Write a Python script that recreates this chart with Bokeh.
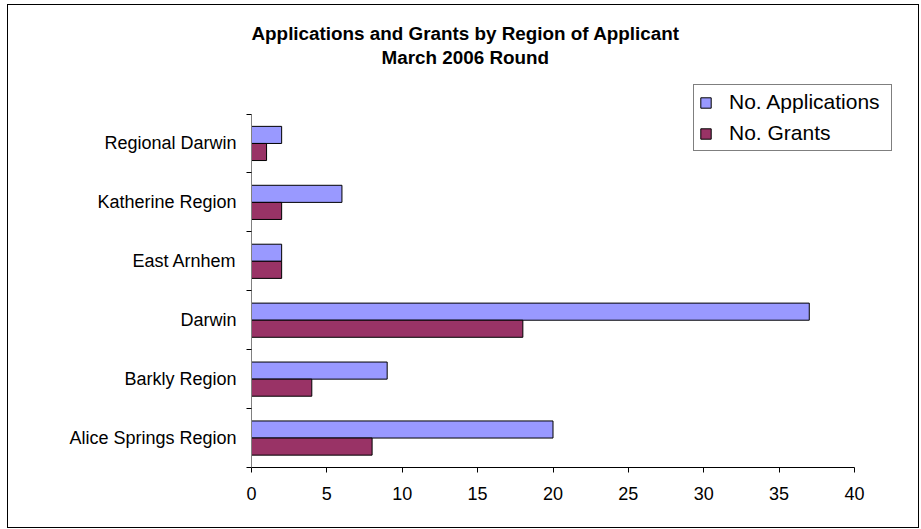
from bokeh.plotting import figure
from bokeh.models import (Range1d, FixedTicker, Title, Legend, LegendItem,
                          ColumnDataSource)
from bokeh.transform import dodge
from bokeh.embed import file_html
from bokeh.resources import INLINE

# ---- data ----
categories = ["Alice Springs Region", "Barkly Region", "Darwin",
              "East Arnhem", "Katherine Region", "Regional Darwin"]
applications = [20, 9, 37, 2, 6, 2]
grants = [8, 4, 18, 2, 2, 1]
series_names = ["No. Applications", "No. Grants"]
series_colors = ["#9999FF", "#993366"]
x_ticks = [0, 5, 10, 15, 20, 25, 30, 35, 40]
title_lines = ["Applications and Grants by Region of Applicant", "March 2006 Round"]

# ---- layout constants (pixels) ----
FONT = "Liberation Sans"
BAR_H = 0.29
W, H = 910, 522
MB_LEFT, MB_RIGHT, MB_TOP, MB_BOTTOM = 243, 16, 63, 60
AXIS_X_PX = 603.0      # pixel length of the x axis (0..40)
AXIS_Y_PX = 353.5      # pixel length of the category axis

frame_w = W - MB_LEFT - MB_RIGHT
frame_h = H - MB_TOP - MB_BOTTOM
x_end = x_ticks[0] + (x_ticks[-1] - x_ticks[0]) * frame_w / AXIS_X_PX
y_end = -0.5 + len(categories) * frame_h / AXIS_Y_PX

pos = list(range(len(categories)))
src = ColumnDataSource(dict(y=pos, cat=categories, app=applications, gr=grants))

p = figure(width=W, height=H, output_backend="svg", toolbar_location=None,
           x_range=Range1d(x_ticks[0], x_end),
           y_range=Range1d(-0.5, y_end),
           title=None,
           min_border_left=MB_LEFT, min_border_right=MB_RIGHT,
           min_border_top=MB_TOP, min_border_bottom=MB_BOTTOM,
           margin=(5, 3, 2, 8),
           styles={"outline": "1px solid #000000", "outline-offset": "0px",
                   "width": f"{W}px", "height": f"{H}px"})
p.outline_line_color = None
p.background_fill_color = "white"
p.border_fill_color = "white"
p.xgrid.visible = False
p.ygrid.visible = False

r_app = p.hbar(y=dodge("y", BAR_H / 2, range=p.y_range), left=0, right="app",
               height=BAR_H, source=src, fill_color=series_colors[0],
               line_color="black", line_width=1)
r_gr = p.hbar(y=dodge("y", -BAR_H / 2, range=p.y_range), left=0, right="gr",
              height=BAR_H, source=src, fill_color=series_colors[1],
              line_color="black", line_width=1)

# x axis
xa = p.xaxis[0]
xa.ticker = FixedTicker(ticks=x_ticks, minor_ticks=[])
xa.bounds = (x_ticks[0], x_ticks[-1])
xa.axis_line_color = "black"
xa.major_tick_line_color = "black"
xa.major_tick_out = 5
xa.major_tick_in = 0
xa.minor_tick_line_color = None
xa.major_label_standoff = 14
xa.major_label_text_font = FONT
xa.major_label_text_font_size = "18px"
xa.major_label_text_color = "black"

# y axis: labels at category centres, tick marks between categories
ya = p.yaxis[0]
ya.ticker = FixedTicker(ticks=pos, minor_ticks=[i - 0.5 for i in range(len(categories) + 1)])
ya.bounds = (-0.5, len(categories) - 0.5)
ya.major_label_overrides = {i: c for i, c in zip(pos, categories)}
ya.axis_line_color = "#808080"
ya.major_tick_line_color = None
ya.major_tick_out = 0
ya.major_tick_in = 0
ya.minor_tick_line_color = "black"
ya.minor_tick_out = 5
ya.minor_tick_in = 0
ya.major_label_standoff = 10
ya.major_label_text_font = FONT
ya.major_label_text_font_size = "18px"
ya.major_label_text_color = "black"

# titles (inner line added first)
t2 = Title(text=title_lines[1], align="left", offset=130, text_font=FONT,
           text_font_size="18.85px", text_font_style="bold", text_color="black",
           standoff=2)
t1 = Title(text=title_lines[0], align="left", offset=0, text_font=FONT,
           text_font_size="18.85px", text_font_style="bold", text_color="black",
           standoff=0)
p.add_layout(t2, "above")
p.add_layout(t1, "above")

legend = Legend(items=[LegendItem(label=series_names[0], renderers=[r_app]),
                       LegendItem(label=series_names[1], renderers=[r_gr])],
                location=(442, 316), orientation="vertical",
                border_line_color="black", border_line_width=1,
                background_fill_color="white", background_fill_alpha=1,
                label_text_font=FONT, label_text_font_size="21px",
                label_text_color="black",
                glyph_width=13, glyph_height=13, label_standoff=17,
                label_width=157,
                padding=5, spacing=7, margin=0)
p.add_layout(legend)

open("out.html", "w").write(file_html(p, INLINE))
